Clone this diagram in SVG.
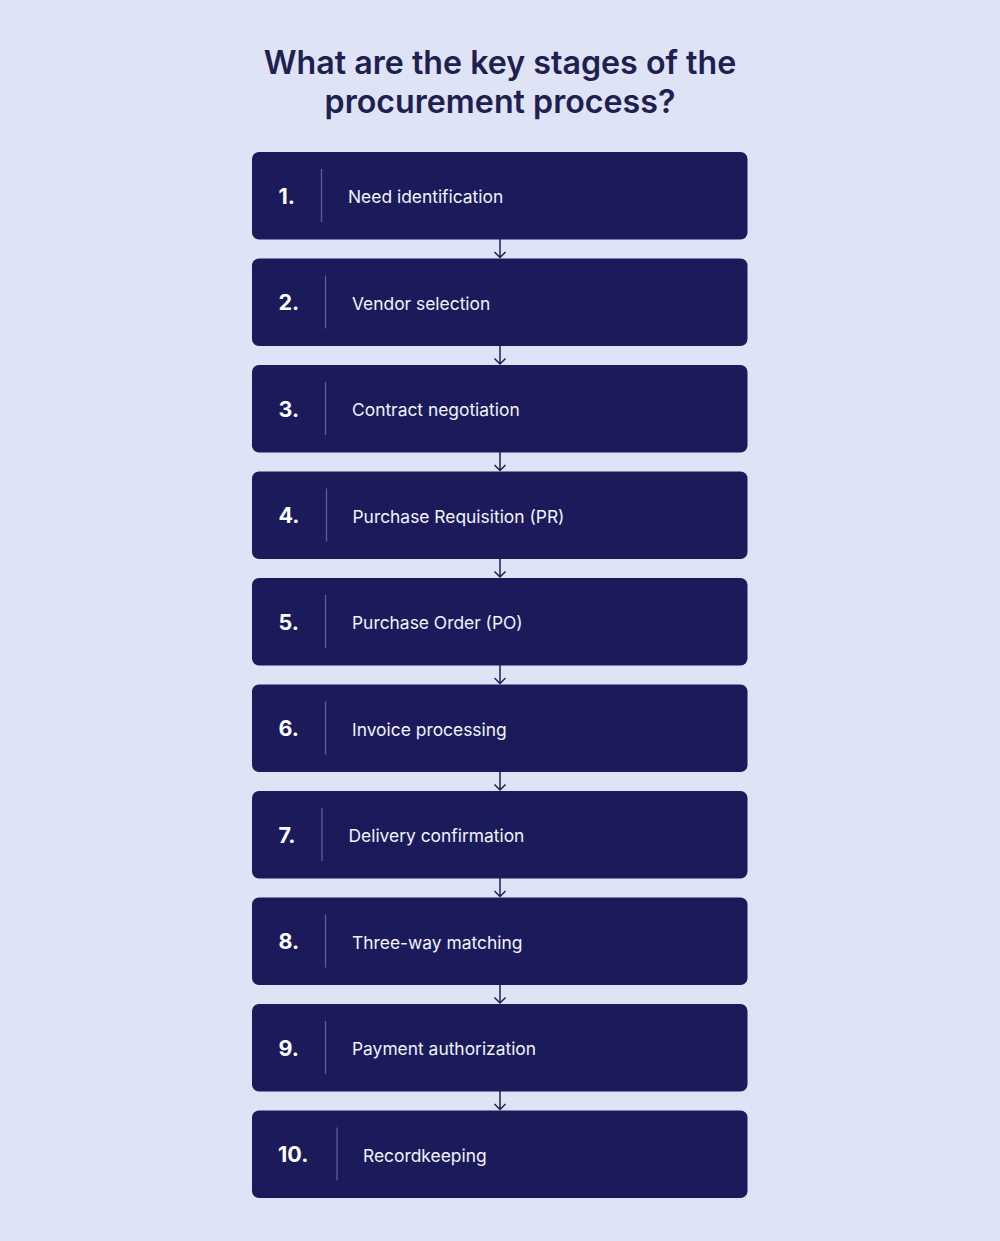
<svg xmlns="http://www.w3.org/2000/svg" width="1000" height="1241" viewBox="0 0 1000 1241">
<defs>
<style>
.bg{fill:#dfe3f6}
.title{font-family:Inter,"Liberation Sans",sans-serif;font-weight:600;font-size:32.2px;fill:#1e2150;text-anchor:middle}
.box{fill:#1b1b5b}
.num{font-family:Inter,"Liberation Sans",sans-serif;font-weight:700;font-size:21.5px;fill:#ffffff}
.lbl{font-family:Inter,"Liberation Sans",sans-serif;font-weight:400;font-size:17.4px;fill:#f2f2fc}
.sep{stroke:#5b5f9c;stroke-width:1.3}
.conn{stroke:#1e2150;stroke-width:1.5;fill:none}
</style>
</defs>
<rect class="bg" x="0" y="0" width="1000" height="1241"/>
<g id="title">
<text class="title" x="500" y="73.5">What are the key stages of the</text>
<text class="title" x="500" y="112.5">procurement process?</text>
</g>
<g id="connectors">
<path class="conn" d="M500 239V257.5M494.5 252L500 257.5L505.5 252"/>
<path class="conn" d="M500 345.5V364M494.5 358.5L500 364L505.5 358.5"/>
<path class="conn" d="M500 452V470.5M494.5 465L500 470.5L505.5 465"/>
<path class="conn" d="M500 558.5V577M494.5 571.5L500 577L505.5 571.5"/>
<path class="conn" d="M500 665V683.5M494.5 678L500 683.5L505.5 678"/>
<path class="conn" d="M500 771.5V790M494.5 784.5L500 790L505.5 784.5"/>
<path class="conn" d="M500 878V896.5M494.5 891L500 896.5L505.5 891"/>
<path class="conn" d="M500 984.5V1003M494.5 997.5L500 1003L505.5 997.5"/>
<path class="conn" d="M500 1091V1109.5M494.5 1104L500 1109.5L505.5 1104"/>
</g>
<g id="step1"><rect class="box" x="252" y="152" width="495.5" height="87.5" rx="7"/><text class="num" x="278.5" y="203.5">1.</text><line class="sep" x1="321.5" y1="169" x2="321.5" y2="222"/><text class="lbl" x="348" y="203">Need identification</text></g>
<g id="step2"><rect class="box" x="252" y="258.5" width="495.5" height="87.5" rx="7"/><text class="num" x="278.5" y="310">2.</text><line class="sep" x1="325.5" y1="275.5" x2="325.5" y2="328.5"/><text class="lbl" x="352" y="309.5">Vendor selection</text></g>
<g id="step3"><rect class="box" x="252" y="365" width="495.5" height="87.5" rx="7"/><text class="num" x="278.5" y="416.5">3.</text><line class="sep" x1="325.5" y1="382" x2="325.5" y2="435"/><text class="lbl" x="352" y="416">Contract negotiation</text></g>
<g id="step4"><rect class="box" x="252" y="471.5" width="495.5" height="87.5" rx="7"/><text class="num" x="278.5" y="523">4.</text><line class="sep" x1="326.5" y1="488.5" x2="326.5" y2="541.5"/><text class="lbl" x="352.5" y="522.5">Purchase Requisition (PR)</text></g>
<g id="step5"><rect class="box" x="252" y="578" width="495.5" height="87.5" rx="7"/><text class="num" x="278.5" y="629.5">5.</text><line class="sep" x1="325.5" y1="595" x2="325.5" y2="648"/><text class="lbl" x="352" y="629">Purchase Order (PO)</text></g>
<g id="step6"><rect class="box" x="252" y="684.5" width="495.5" height="87.5" rx="7"/><text class="num" x="278.5" y="736">6.</text><line class="sep" x1="325.5" y1="701.5" x2="325.5" y2="754.5"/><text class="lbl" x="352" y="735.5">Invoice processing</text></g>
<g id="step7"><rect class="box" x="252" y="791" width="495.5" height="87.5" rx="7"/><text class="num" x="278.5" y="842.5">7.</text><line class="sep" x1="322" y1="808" x2="322" y2="861"/><text class="lbl" x="348.5" y="842">Delivery confirmation</text></g>
<g id="step8"><rect class="box" x="252" y="897.5" width="495.5" height="87.5" rx="7"/><text class="num" x="278.5" y="949">8.</text><line class="sep" x1="325.5" y1="914.5" x2="325.5" y2="967.5"/><text class="lbl" x="352" y="948.5">Three-way matching</text></g>
<g id="step9"><rect class="box" x="252" y="1004" width="495.5" height="87.5" rx="7"/><text class="num" x="278.5" y="1055.5">9.</text><line class="sep" x1="325.5" y1="1021" x2="325.5" y2="1074"/><text class="lbl" x="352" y="1055">Payment authorization</text></g>
<g id="step10"><rect class="box" x="252" y="1110.5" width="495.5" height="87.5" rx="7"/><text class="num" x="278" y="1162">10.</text><line class="sep" x1="337" y1="1127.5" x2="337" y2="1180.5"/><text class="lbl" x="363" y="1161.5">Recordkeeping</text></g>
</svg>
